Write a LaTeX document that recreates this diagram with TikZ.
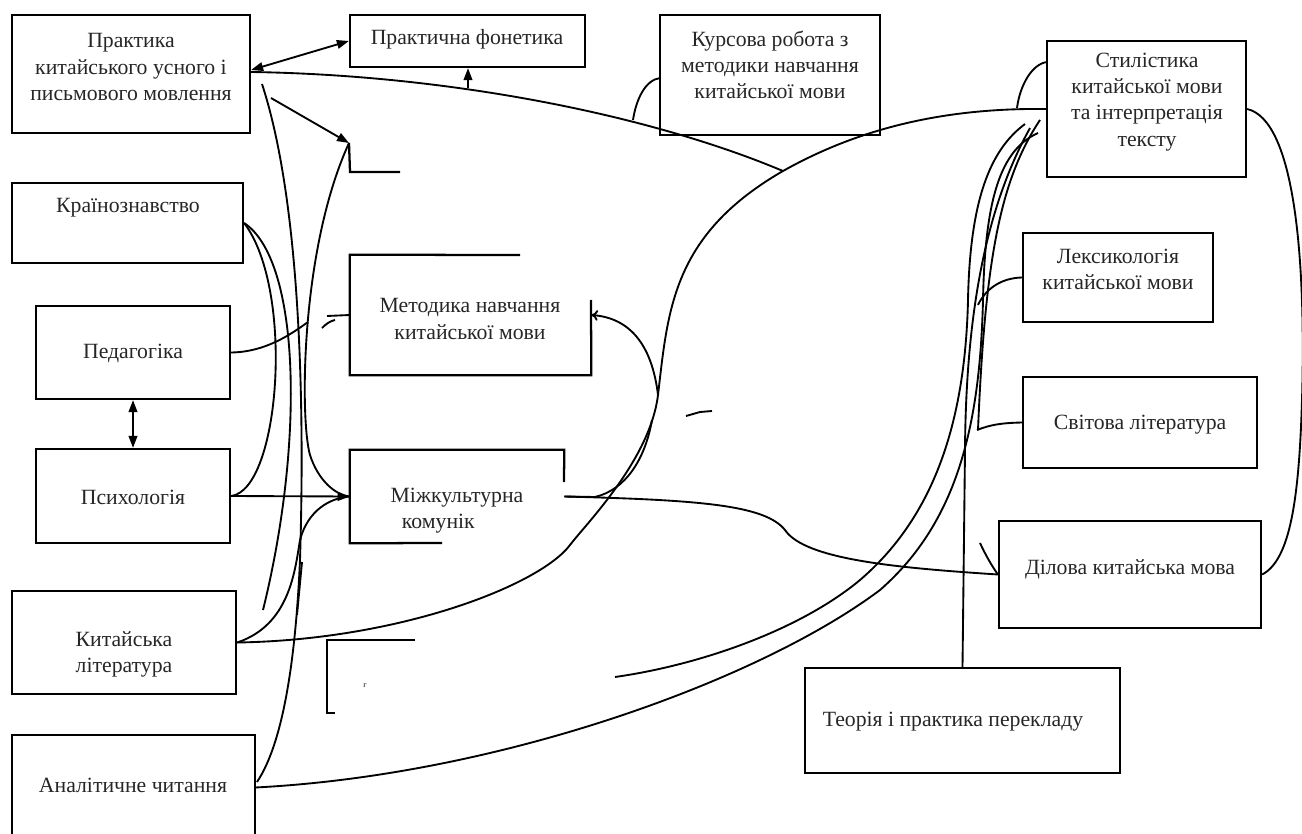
\documentclass[tikz,border=0pt]{standalone}
\usepackage{fontspec}
\setmainfont{Liberation Serif}
\usetikzlibrary{arrows.meta,fit,calc}
\begin{document}
\begin{tikzpicture}[x=0.75pt,y=-0.75pt,
  box/.style={draw,line width=1.7pt,inner sep=0pt},
  nobox/.style={inner sep=0pt},
  boxline/.style={line width=1.7pt},
  lbl/.style={font=\fontsize{16.3}{19.6}\selectfont,align=center,inner sep=0pt,text=black!85},
  conn/.style={line width=1.4pt},
  arr/.style={conn,-{Triangle[length=9pt,width=6.5pt]}},
  darr/.style={conn,{Triangle[length=9pt,width=6.5pt]}-{Triangle[length=9pt,width=6.5pt]}},
  opentip/.style={conn,-{To[length=5pt,width=8pt]}},
]
\useasboundingbox (0,0) rectangle (1302,834);
\clip (0,0) rectangle (1302,834);

% ---------- boxes ----------
\node[box,fit={(12,15)(250,133)}] (b1) {};
\node[lbl] (b1t) at (131,67) {Практика\\китайського усного і\\письмового мовлення};
\node[box,fit={(350,15)(585,67)}] (fon) {};
\node[lbl] (font) at (467,39) {Практична фонетика};
\node[box,fit={(660,15)(880,135)}] (kurs) {};
\node[lbl] (kurst) at (770,65) {Курсова робота з\\методики навчання\\китайської мови};
\node[box,fit={(1047,41)(1246,177)}] (stil) {};
\node[lbl] (stilt) at (1147,102) {Стилістика\\китайської мови\\та інтерпретація\\тексту};
\node[box,fit={(12,183)(243,263)}] (kraj) {};
\node[lbl] (krajt) at (128,208) {Країнознавство};
\node[box,fit={(36,306)(230,399)}] (ped) {};
\node[lbl] (pedt) at (133,353) {Педагогіка};
\node[box,fit={(36,449)(230,543)}] (psy) {};
\node[lbl] (psyt) at (133,497) {Психологія};
\node[nobox,fit={(350,255)(591,375)}] (met) {};
\draw[boxline] (520,255) -- (met.north west) -- (met.south west) -- (met.south east) -- (591,300);
\node[lbl] (mett) at (470,319) {Методика навчання\\китайської мови};
\node[nobox,fit={(350,450)(564,543)}] (mizh) {};
\draw[boxline] (564,482) -- (mizh.north east) -- (mizh.north west) -- (mizh.south west) -- (442,543);
\node[lbl] (mizht) at (457,511) {Міжкультурна\\комунік\phantom{ація}};
\node[box,fit={(12,591)(236,694)}] (kit) {};
\node[lbl] (kitt) at (124,654) {Китайська\\література};
\node[nobox,fit={(12,735)(255,840)}] (anal) {};
\draw[boxline] (12,840) -- (12,735) -- (255,735) -- (255,840);
\node[lbl] (analt) at (133,785) {Аналітичне читання};
\node[box,fit={(1023,233)(1213,322)}] (leks) {};
\node[lbl] (lekst) at (1118,269) {Лексикологія\\китайської мови};
\node[box,fit={(1023,377)(1257,468)}] (svit) {};
\node[lbl] (svitt) at (1140,425) {Світова література};
\node[box,fit={(999,521)(1261,628)}] (dil) {};
\node[lbl] (dilt) at (1130,569) {Ділова китайська мова};
\node[box,fit={(805,668)(1120,773)}] (teor) {};
\node[lbl] (teort) at (953,722) {Теорія і практика перекладу};

% partial boxes
\coordinate (gram) at (349,143);
\draw[boxline] (gram) -- (350,172) -- (400,172);
\coordinate (low) at (327,640);
\draw[boxline] (415,640) -- (low) -- (327,713) -- (335,713);
\node[font=\fontsize{6}{7}\selectfont,inner sep=0pt] (tinyg) at (365,686) {г};

% ---------- named points ----------
\coordinate (b1a) at (262,84);
\coordinate (b1b) at (271,98);
\coordinate (bF) at (468,88);
\coordinate (sJ) at (783,171);
\coordinate (kursA) at (660,78);
\coordinate (kursJ) at (633,120);
\coordinate (stilA) at (1047,62);
\coordinate (stilJ) at (1017,108);
\coordinate (rb1) at (1030,128);
\coordinate (rb2) at (1038,133);
\coordinate (rb3) at (1025,124);
\coordinate (rb4) at (1040,120);
\coordinate (frag) at (615,677);
\coordinate (analJ) at (257,782);
\coordinate (kjEnd) at (263,610);
\coordinate (lensJ) at (652,420);
\coordinate (metJ) at (658,395);

% ---------- connectors: top ----------
\draw[darr] ($(b1.east)+(0,-4)$) -- (fon.west);
\draw[conn] ($(b1.east)+(0,-2)$) .. controls (450,75) and (650,115) .. (sJ);
\draw[arr] (bF) -- (fon.south -| bF);
\draw[arr] (b1b) -- (gram);
\draw[conn] (kursA) .. controls (645,80) and (636,100) .. (kursJ);
\draw[conn] (stilA) .. controls (1032,64) and (1020,85) .. (stilJ);

% long S-curve from Китайська література to Стилістика
\draw[conn] (kit.east) .. controls (400,640) and (540,585) .. (570,545)
  .. controls (585,525) and (650,460) .. (metJ)
  .. controls (668,310) and (672,235) .. (sJ)
  .. controls (870,122) and (960,108) .. (stil.west);
\draw[conn] (mizh.east) -- (595,497) .. controls (625,490) and (645,460) .. (lensJ);
\draw[conn] (mizh.east) .. controls (700,500) and (765,505) .. (785,530)
  .. controls (805,560) and (900,568) .. (dil.west);
\draw[opentip] (metJ) .. controls (652,345) and (630,318) .. (met.east);
\draw[conn] (686,416) -- (700,412) -- (712,411);

% right side
\draw[conn] (stil.east) .. controls (1295,120) and (1306,260) .. (1302,400)
  .. controls (1299,500) and (1290,560) .. (dil.east);
\draw[conn] (rb1) .. controls (990,200) and (966,300) .. (965,450) -- (teor.north);
\draw[conn] (anal.east) .. controls (500,775) and (760,680) .. (880,590)
  .. controls (960,520) and (980,420) .. (983,300)
  .. controls (985,200) and (1000,150) .. (rb2);
\draw[conn] (frag) .. controls (700,665) and (800,630) .. (860,580)
  .. controls (930,520) and (965,430) .. (968,300)
  .. controls (970,200) and (990,150) .. (rb3);
\draw[conn] (rb4) .. controls (1000,180) and (985,260) .. (978,430);
\draw[conn] (leks.west) .. controls (1000,278) and (985,290) .. (978,305);
\draw[conn] (svit.west) .. controls (1000,423) and (990,425) .. (977,430);
\draw[conn] (980,543) .. controls (986,556) and (992,566) .. (dil.west);

% left bundle
\draw[darr] (ped.south) -- (psy.north);
\draw[conn] (b1a) .. controls (300,200) and (305,400) .. (300,560)
  .. controls (296,650) and (285,740) .. (analJ);
\draw[conn] (gram) .. controls (300,250) and (300,420) .. (310,455)
  .. controls (318,480) and (335,495) .. (mizh.west);
\draw[conn] (kraj.east) .. controls (300,260) and (305,440) .. (kjEnd);
\draw[conn] (psy.east) .. controls (280,490) and (295,290) .. (kraj.east);
\draw[conn] (kit.east) .. controls (290,625) and (295,570) .. (300,540)
  .. controls (308,510) and (330,498) .. (mizh.west);
\draw[arr] (psy.east) -- (mizh.west);
\draw[conn] (ped.east) .. controls (265,352) and (290,335) .. (308,322);
\draw[conn] (met.west) -- (327,316);
\draw[conn] (322,328) .. controls (326,324) and (330,321) .. (335,320);
\draw[conn] (297,615) -- (302,562);
\end{tikzpicture}
\end{document}
